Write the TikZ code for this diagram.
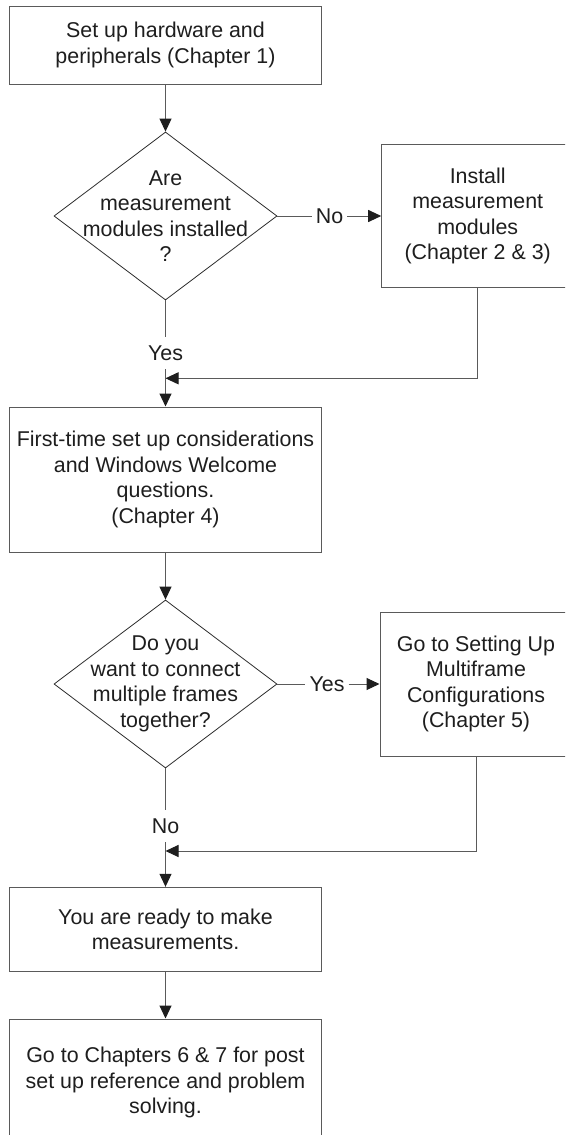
\documentclass[tikz,border=0pt]{standalone}
\usepackage{fontspec}
\setmainfont{Liberation Sans}
\usetikzlibrary{arrows.meta,shapes.geometric}
\definecolor{txt}{HTML}{1E1E1E}
\definecolor{ln}{HTML}{5A5A5A}
\definecolor{dl}{HTML}{2E2E2E}
\begin{document}
\begin{tikzpicture}[x=1pt,y=-1pt,
  every node/.style={font=\fontsize{21.4}{25.5}\selectfont, text=txt},
  stepbox/.style={draw=ln, line width=1pt, align=center, inner sep=0pt, minimum width=312pt},
  sidebox/.style={stepbox, minimum width=192pt},
  decision/.style={draw=dl, line width=0.8pt, diamond, inner sep=0pt, minimum width=223pt, minimum height=168pt},
  conn/.style={draw=ln, line width=1pt},
  arr/.style={conn, -{Triangle[length=13pt,width=12pt,color=txt]}},
  lbl/.style={inner sep=0pt}]
\fill[white] (0,0) rectangle (565,1135);
\useasboundingbox (0,0) rectangle (565,1135);
\begin{scope}
\clip (0,0) rectangle (565,1135);
% boxes and decisions
\node[stepbox, minimum height=78pt] (b1) at (165.5,45) {Set up hardware and\\peripherals (Chapter 1)};
\node[decision, label={[align=center]center:Are\\measurement\\modules installed\\?}] (d1) at (165.5,216) {};
\node[sidebox, minimum height=143.3pt] (b2) at (477.7,216) {Install\\measurement\\modules\\(Chapter 2 \& 3)};
\node[stepbox, minimum height=145pt] (b3) at (165.5,479.5) {First-time set up considerations\\and Windows Welcome\\questions.\\(Chapter 4)};
\node[decision, label={[align=center]center:Do you\\want to connect\\multiple frames\\together?}] (d2) at (165.5,684) {};
\node[sidebox, minimum height=144pt] (b5) at (476,684) {Go to Setting Up\\Multiframe\\Configurations\\(Chapter 5)};
\node[stepbox, minimum height=84.4pt] (b6) at (165.5,929.5) {You are ready to make\\measurements.};
\node[stepbox, minimum height=127pt] (b7) at (165.5,1082.5) {Go to Chapters 6 \& 7 for post\\set up reference and problem\\solving.};
% connector labels
\node[lbl, minimum width=35pt] (no1) at (329.5,216) {No};
\node[lbl, minimum height=32pt] (yes1) at (165.5,353) {Yes};
\node[lbl, minimum width=43pt] (yes2) at (327,684) {Yes};
\node[lbl, minimum height=32pt] (no2) at (165.5,826) {No};
\coordinate (j1) at (165.5,378.3);
\coordinate (j2) at (165.5,851);
% connectors
\draw[arr] (b1) -- (d1);
\draw[conn] (d1.east) -- (no1.west);
\draw[arr] (no1.east) -- (b2.west);
\draw[conn] (d1.south) -- (yes1.north);
\draw[conn] (yes1.south) -- (j1);
\draw[arr] (b2.south) |- (j1);
\draw[arr] (j1) -- (b3.north);
\draw[arr] (b3) -- (d2);
\draw[conn] (d2.east) -- (yes2.west);
\draw[arr] (yes2.east) -- (b5.west);
\draw[conn] (d2.south) -- (no2.north);
\draw[conn] (no2.south) -- (j2);
\draw[arr] (b5.south) |- (j2);
\draw[arr] (j2) -- (b6.north);
\draw[arr] (b6) -- (b7);
\end{scope}
\end{tikzpicture}
\end{document}
